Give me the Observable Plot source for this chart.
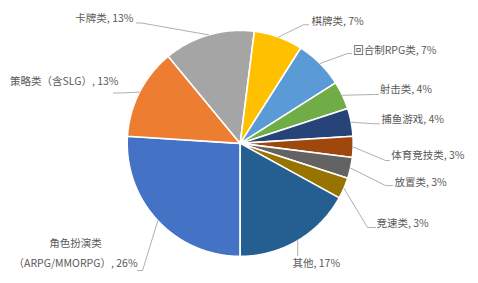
<!DOCTYPE html>
<html>
<head>
<meta charset="utf-8">
<script src="https://cdn.jsdelivr.net/npm/d3@7"></script>
<script src="https://cdn.jsdelivr.net/npm/@observablehq/plot@0.6"></script>
<style>
  html, body { margin: 0; padding: 0; background: #fff; }
  #chart { width: 478px; height: 283px; }
</style>
</head>
<body>
<div id="chart"></div>
<script>
// ---- data ----
const categories = ["角色扮演类", "策略类（含SLG）", "卡牌类", "棋牌类", "回合制RPG类", "射击类", "捕鱼游戏", "体育竞技类", "放置类", "竞速类", "其他"];
const shares = [26, 13, 13, 7, 7, 4, 4, 3, 3, 3, 17];
const labelNames = ["角色扮演类\n（ARPG/MMORPG）", "策略类（含SLG）", "卡牌类", "棋牌类", "回合制RPG类", "射击类", "捕鱼游戏", "体育竞技类", "放置类", "竞速类", "其他"];
const colors = ["#4472C4", "#ED7D31", "#A5A5A5", "#FFC000", "#5B9BD5", "#70AD47", "#264478", "#9E480E", "#636363", "#997300", "#255E91"];

// ---- layout (pie geometry and label offsets relative to the slice's outer mid point) ----
const W = 478, H = 283;
const pie = {cx: 239.7, cy: 142.9, r: 113, start: Math.PI};
// [elbowDx, elbowDy, endDx, endDy, textDx, textDy, anchor]
const labelLayout = [
  [-15.3, 49.8, -20.3, 49.8, -82.3, 30.2, "middle"],
  [-19, 0.9, -26, 0.9, -21, -10.6, "end"],
  [-67.2, -11.9, -72.2, -11.9, -75.2, -15.9, "end"],
  [25, -12.3, 30, -12.3, 33, -15.1, "start"],
  [27.4, -10, 31.4, -10, 33.1, -13, "start"],
  [32, -0.8, 36, -0.8, 37.3, -5.3, "start"],
  [24.3, 1.6, 28.3, 1.6, 30, -3, "start"],
  [32.4, 13.6, 36.4, 13.6, 38.1, 9.1, "start"],
  [35, 17.5, 42, 17.5, 44, 14.5, "start"],
  [23.6, 39.2, 31.6, 39.2, 32.6, 34.9, "start"],
  [0, 14.8, 0, 14.8, -5.2, 22.8, "start"]
];

// ---- build ----
const rows = categories.map((name, i) => ({name, value: shares[i], color: colors[i], i}));
const arcs = d3.pie().sort(null).value(d => d.value).startAngle(pie.start).endAngle(pie.start + 2 * Math.PI)(rows);
const pt = (a, rr) => ({x: pie.cx + rr * Math.sin(a), y: pie.cy - rr * Math.cos(a)});

const slicePts = [];
const leaderPts = [];
const labels = [];
arcs.forEach(a => {
  const d = a.data;
  slicePts.push({name: d.name, color: d.color, ...pt(0, 0)});
  const n = Math.max(2, Math.ceil((a.endAngle - a.startAngle) / (Math.PI / 360)));
  for (let k = 0; k <= n; k++) {
    const ang = a.startAngle + (a.endAngle - a.startAngle) * k / n;
    slicePts.push({name: d.name, color: d.color, ...pt(ang, pie.r)});
  }
  slicePts[slicePts.length - n - 2].x = pie.cx; slicePts[slicePts.length - n - 2].y = pie.cy;
  const mid = pt((a.startAngle + a.endAngle) / 2, pie.r);
  const L = labelLayout[d.i];
  leaderPts.push({name: d.name, x: mid.x, y: mid.y});
  leaderPts.push({name: d.name, x: mid.x + L[0], y: mid.y + L[1]});
  leaderPts.push({name: d.name, x: mid.x + L[2], y: mid.y + L[3]});
  labels.push({text: `${labelNames[d.i]}, ${d.value}%`, x: mid.x + L[4], y: mid.y + L[5], anchor: L[6]});
});

const textOpts = {x: "x", y: "y", text: "text", fontSize: 10.5, fill: "#595959", lineAnchor: "middle", fontFamily: "'Noto Sans CJK SC', 'Noto Sans', sans-serif"};

const chart = Plot.plot({
  width: W,
  height: H,
  margin: 0,
  style: {background: "#fff", fontFamily: "'Noto Sans CJK SC', sans-serif"},
  x: {domain: [0, W], range: [0, W], axis: null},
  y: {domain: [0, H], range: [0, H], axis: null},
  marks: [
    Plot.line(slicePts, {x: "x", y: "y", z: "name", fill: "color", stroke: "#fff", strokeWidth: 1.6, curve: "linear-closed"}),
    Plot.line(leaderPts, {x: "x", y: "y", z: "name", stroke: "#A6A6A6", strokeWidth: 0.9}),
    Plot.text(labels.filter(d => d.anchor === "start"), {...textOpts, textAnchor: "start"}),
    Plot.text(labels.filter(d => d.anchor === "end"), {...textOpts, textAnchor: "end"}),
    Plot.text(labels.filter(d => d.anchor === "middle"), {...textOpts, textAnchor: "middle", lineHeight: 1.85})
  ]
});
document.getElementById("chart").appendChild(chart);
</script>
</body>
</html>
